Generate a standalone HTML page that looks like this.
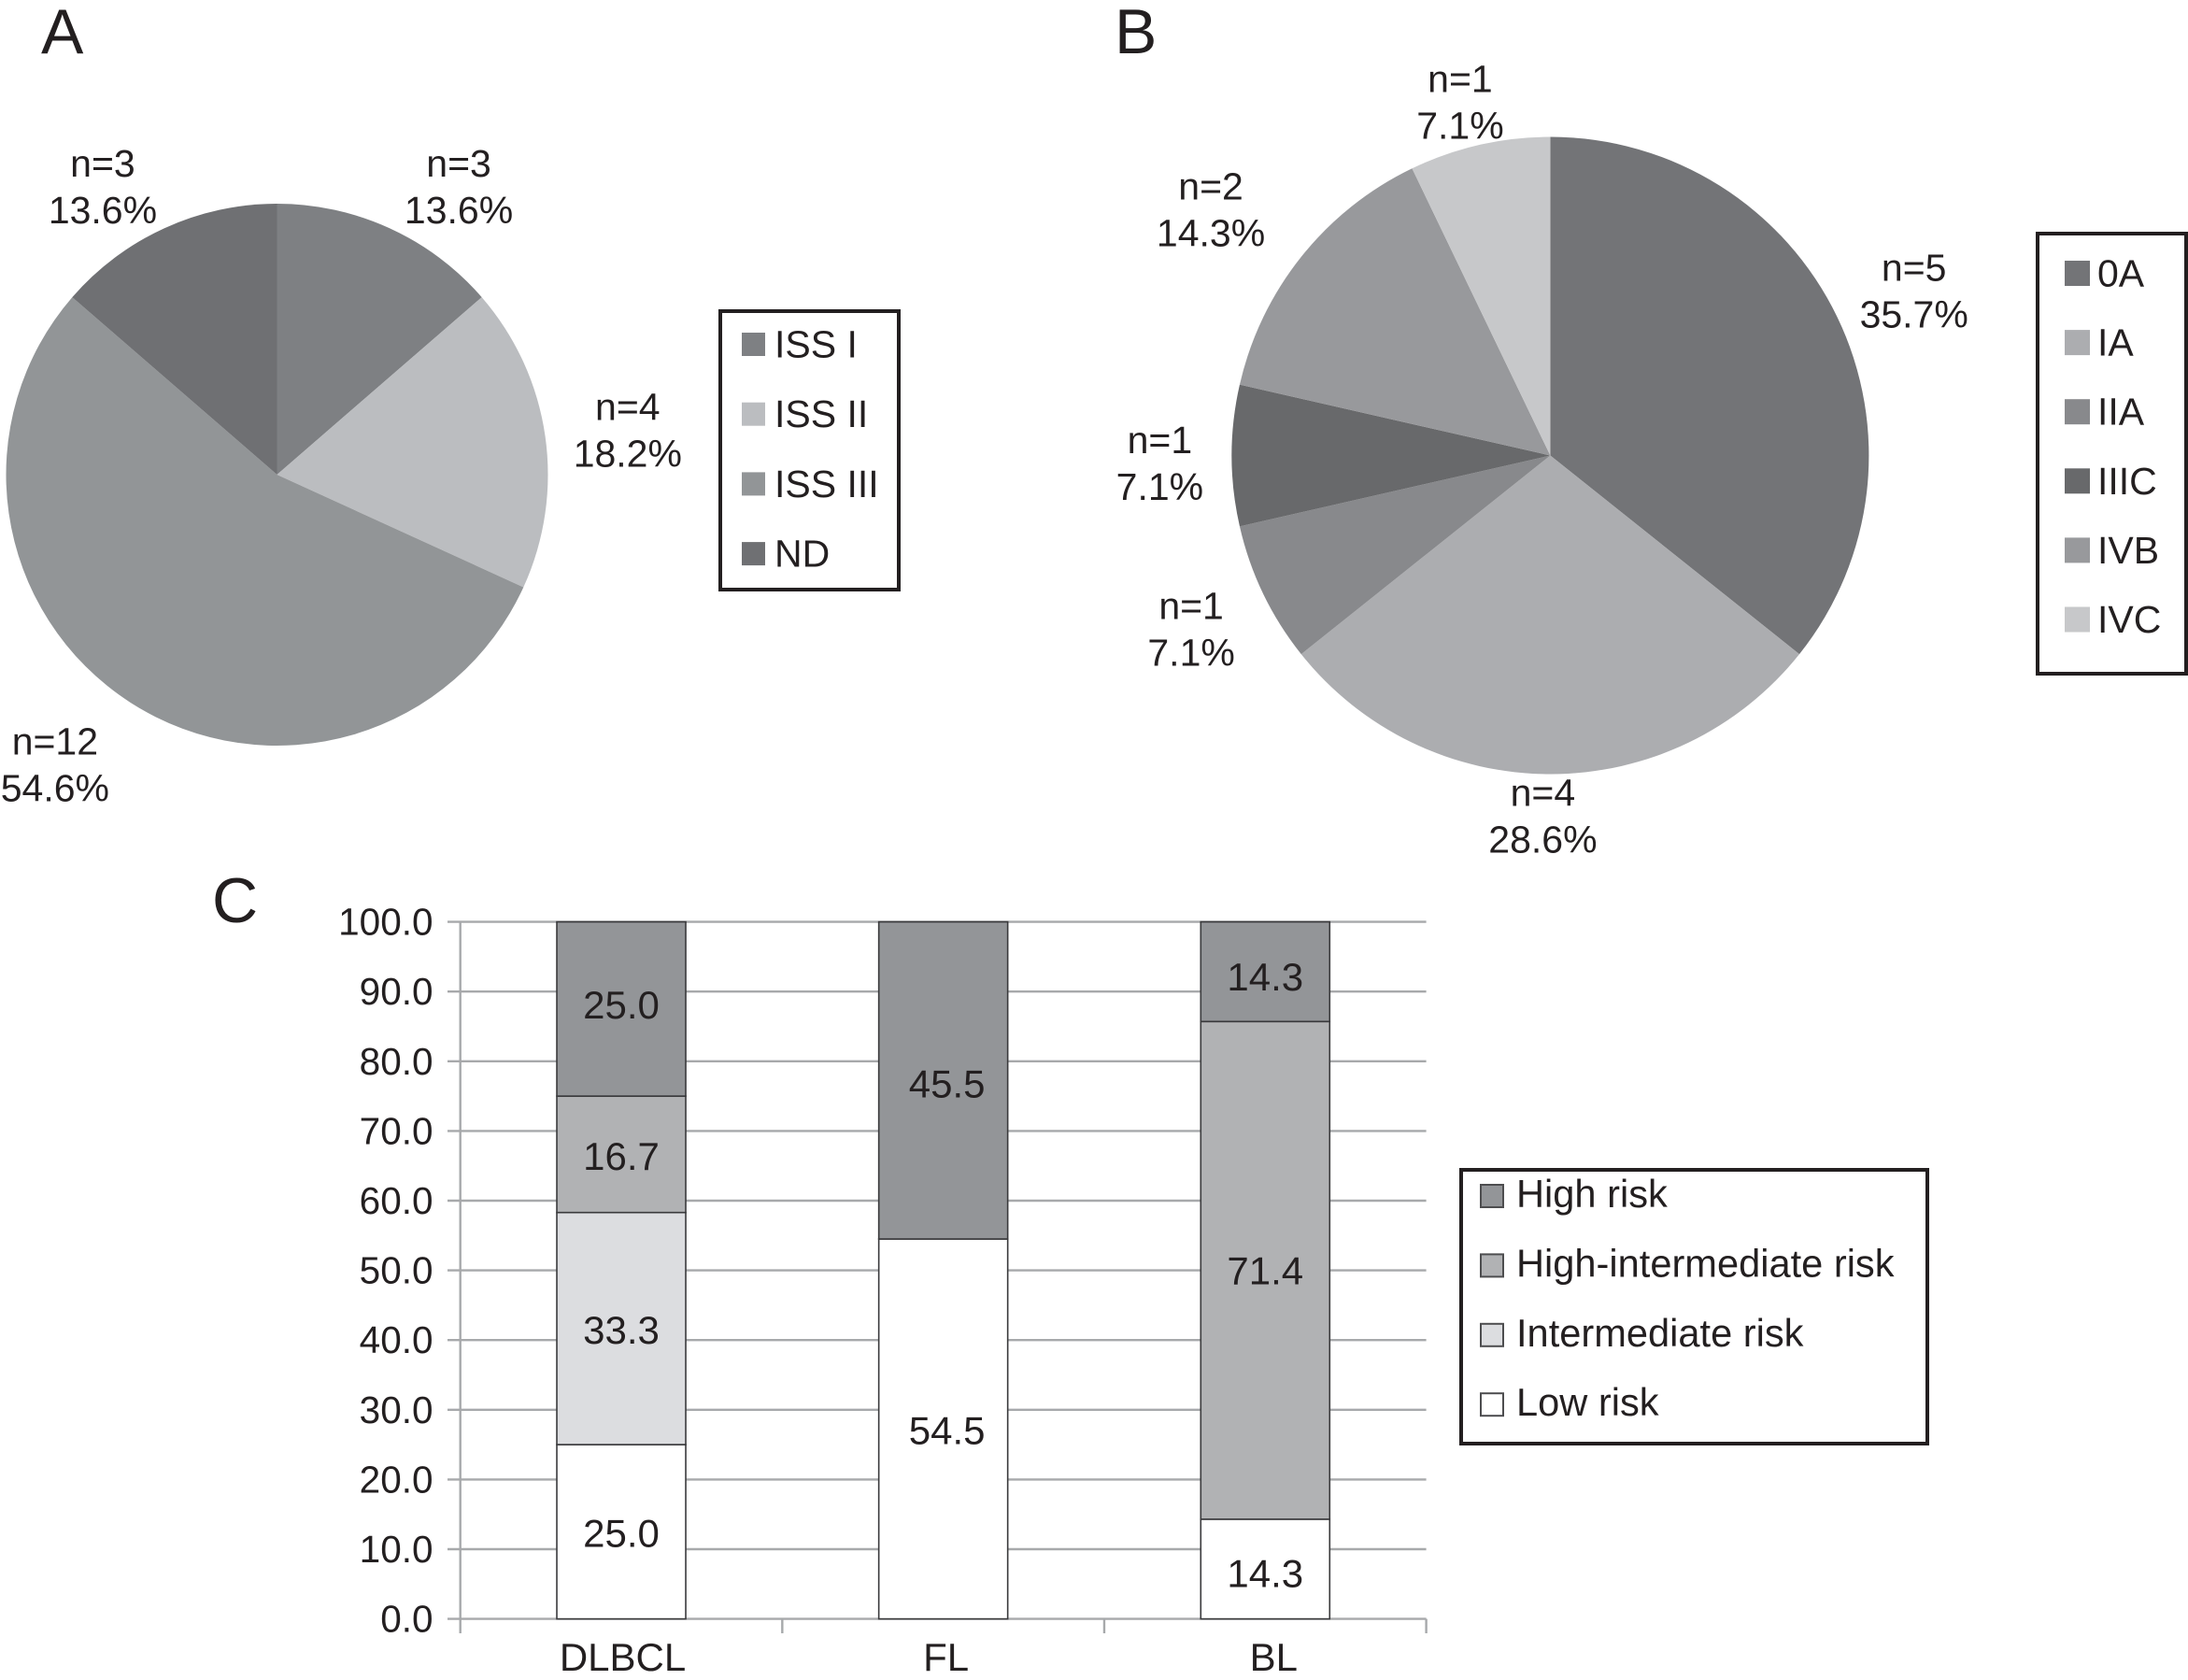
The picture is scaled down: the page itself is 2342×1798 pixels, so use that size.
<!DOCTYPE html>
<html lang="en">
<head>
<meta charset="utf-8">
<title>Staging and risk distribution charts</title>
<style>
  html, body { margin: 0; padding: 0; background: #ffffff; }
  svg { display: block; }
  text { font-family: "Liberation Sans", Arial, sans-serif; fill: #231f20; }
</style>
</head>
<body>
<svg id="figure" xmlns="http://www.w3.org/2000/svg" width="2342" height="1798" viewBox="0 0 2342 1798">
  <rect x="0" y="0" width="2342" height="1798" fill="#ffffff"/>
  <text x="44" y="57" font-size="68">A</text>
  <text x="1193" y="57" font-size="68">B</text>
  <text x="227" y="987" font-size="68">C</text>
  <g id="pie-a"></g>
  <g id="pie-b"></g>
  <g id="bars-c"></g>
  <g id="legend-a"></g>
  <g id="legend-b"></g>
  <g id="legend-c"></g>
</svg>
<script>
// ---- data: panel A ----
const issStages = ['ISS I', 'ISS II', 'ISS III', 'ND'];
const issCounts = [3, 4, 12, 3];
const issPercents = ['13.6%', '18.2%', '54.6%', '13.6%'];

// ---- data: panel B ----
const annArborStages = ['0A', 'IA', 'IIA', 'IIIC', 'IVB', 'IVC'];
const annArborCounts = [5, 4, 1, 1, 2, 1];
const annArborPercents = ['35.7%', '28.6%', '7.1%', '7.1%', '14.3%', '7.1%'];

// ---- data: panel C ----
const lymphomaTypes = ['DLBCL', 'FL', 'BL'];
const riskGroups = ['Low risk', 'Intermediate risk', 'High-intermediate risk', 'High risk'];
const lowRisk = [25.0, 54.5, 14.3];
const intermediateRisk = [33.3, 0, 0];
const highIntermediateRisk = [16.7, 0, 71.4];
const highRisk = [25.0, 45.5, 14.3];
const yTickValues = [0, 10, 20, 30, 40, 50, 60, 70, 80, 90, 100];

// ---- styling ----
const issColors = ['#7e8083', '#bbbdc0', '#929597', '#6f7073'];
const annArborColors = ['#737477', '#acadb0', '#88898c', '#68696b', '#98999c', '#c7c8ca'];
const riskColors = ['#ffffff', '#dcdde0', '#b1b2b4', '#939598'];
const issLabelNudge = [[45, 33.5], [19, 17.5], [-43, 21.5], [-37, 33.5]];
const annArborLabelNudge = [[19, 16.5], [-8, -11], [-14, 21.5], [-7, 22.5], [-42, 7.5], [-5, 36.5]];
const categoryLabelNudge = [1.5, 3, 9];
const valueLabelShiftX = [0, 4, 0];
const valueLabelShiftY = [[1, 1, 4], [1, 0, 0], [1.5, 0, 0], [-5, 3, 5]];

const SVG_NS = 'http://www.w3.org/2000/svg';
const FONT = 41;

function make(parent, tag, attrs, content) {
  const el = document.createElementNS(SVG_NS, tag);
  Object.keys(attrs).forEach(function (k) { el.setAttribute(k, attrs[k]); });
  if (content !== undefined) el.textContent = content;
  parent.appendChild(el);
  return el;
}

function slug(s) {
  return String(s).toLowerCase().replace(/[^a-z0-9]+/g, '-');
}

function drawPie(host, cx, cy, r, names, counts, percents, colors, nudges) {
  const total = counts.reduce(function (a, b) { return a + b; }, 0);
  let acc = 0;
  counts.forEach(function (n, i) {
    const a0 = acc / total * 2 * Math.PI;
    acc += n;
    const a1 = acc / total * 2 * Math.PI;
    const mid = (a0 + a1) / 2;
    const large = a1 - a0 > Math.PI ? 1 : 0;
    const d = 'M' + cx + ' ' + cy +
      ' L' + (cx + r * Math.sin(a0)) + ' ' + (cy - r * Math.cos(a0)) +
      ' A' + r + ' ' + r + ' 0 ' + large + ' 1 ' + (cx + r * Math.sin(a1)) + ' ' + (cy - r * Math.cos(a1)) + ' Z';
    const slice = make(host, 'path', { d: d, fill: colors[i] });
    
    

    const lx = cx + (r + 70) * Math.sin(mid) + nudges[i][0];
    const ly = cy - (r + 70) * Math.cos(mid) + nudges[i][1];
    const countText = make(host, 'text', { x: lx, y: ly - 25, 'font-size': FONT, 'text-anchor': 'middle' }, 'n=' + n);
    
    
    const pctText = make(host, 'text', { x: lx, y: ly + 25, 'font-size': FONT, 'text-anchor': 'middle' }, percents[i]);
    
    
  });
}

function drawLegend(host, box, names, colors, swatchX, swatchSize, textX, firstY, stepY, baseOffset, outline, fontSize) {
  const frame = make(host, 'rect', {
    x: box[0], y: box[1], width: box[2], height: box[3],
    fill: '#ffffff', stroke: '#231f20', 'stroke-width': 4
  });
  
  
  names.forEach(function (name, i) {
    const yc = firstY + i * stepY;
    const swatch = make(host, 'rect', {
      x: swatchX, y: yc - swatchSize / 2, width: swatchSize, height: swatchSize, fill: colors[i],
      stroke: outline ? '#4d4d4f' : 'none', 'stroke-width': outline ? 2 : 0
    });
    
    
    const label = make(host, 'text', { x: textX, y: yc + baseOffset, 'font-size': fontSize }, name);
    
    
  });
}

function drawBars(host) {
  const left = 492.7, right = 1526.6, top = 986.6, bottom = 1732.6, barWidth = 138;
  const band = (right - left) / lymphomaTypes.length;
  const yScale = function (v) { return bottom - (v / 100) * (bottom - top); };
  const xCenter = function (i) { return left + band * (i + 0.5); };

  yTickValues.forEach(function (v) {
    const y = yScale(v);
    const grid = make(host, 'line', { x1: 479, x2: right, y1: y, y2: y, stroke: '#a7a9ab', 'stroke-width': 2.4 });
    
    
    const tick = make(host, 'text', { x: 463.5, y: y + 14, 'font-size': 40.5, 'text-anchor': 'end' }, v.toFixed(1));
    
    
  });

  const yAxis = make(host, 'line', { x1: left, x2: left, y1: top, y2: 1748, stroke: '#a7a9ab', 'stroke-width': 2.4 });
  
  

  for (let t = 1; t <= lymphomaTypes.length; t++) {
    const tx = left + t * band;
    const xTick = make(host, 'line', { x1: tx, x2: tx, y1: bottom, y2: 1748, stroke: '#a7a9ab', 'stroke-width': 2.4 });
    
    
  }

  const stacks = [lowRisk, intermediateRisk, highIntermediateRisk, highRisk];
  lymphomaTypes.forEach(function (cat, i) {
    const cx = xCenter(i);
    let base = 0;
    stacks.forEach(function (series, s) {
      const v = series[i];
      if (!v) return;
      const y0 = yScale(base);
      const y1 = yScale(base + v);
      const rect = make(host, 'rect', {
        x: cx - barWidth / 2, y: y1, width: barWidth, height: y0 - y1,
        fill: riskColors[s], stroke: '#3a3a3c', 'stroke-width': 1.6
      });
      
      
      base += v;
    });
    base = 0;
    stacks.forEach(function (series, s) {
      const v = series[i];
      if (!v) return;
      const ym = yScale(base + v / 2);
      const value = make(host, 'text', {
        x: cx + valueLabelShiftX[i], y: ym + 15 + valueLabelShiftY[s][i],
        'font-size': 42, 'text-anchor': 'middle'
      }, v.toFixed(1));
      
      
      base += v;
    });
    const catLabel = make(host, 'text', { x: cx + categoryLabelNudge[i], y: 1788, 'font-size': 42, 'text-anchor': 'middle' }, cat);
    
    
  });
}

drawPie(document.getElementById('pie-a'), 296.5, 508, 290, issStages, issCounts, issPercents, issColors, issLabelNudge);
drawPie(document.getElementById('pie-b'), 1659.4, 487.5, 341, annArborStages, annArborCounts, annArborPercents, annArborColors, annArborLabelNudge);
drawBars(document.getElementById('bars-c'));

drawLegend(document.getElementById('legend-a'), [771, 333, 191, 298], issStages, issColors, 794, 25, 829, 368.5, 74.7, 14, false, 41);
drawLegend(document.getElementById('legend-b'), [2181, 250, 159, 471], annArborStages, annArborColors, 2210, 27, 2245, 292.5, 74.1, 14, false, 41);
drawLegend(document.getElementById('legend-c'),
  [1564, 1252, 499, 293],
  riskGroups.slice().reverse(),
  riskColors.slice().reverse(),
  1585, 24, 1623, 1280, 74.4, 12, true, 41.6);
</script>
</body>
</html>
